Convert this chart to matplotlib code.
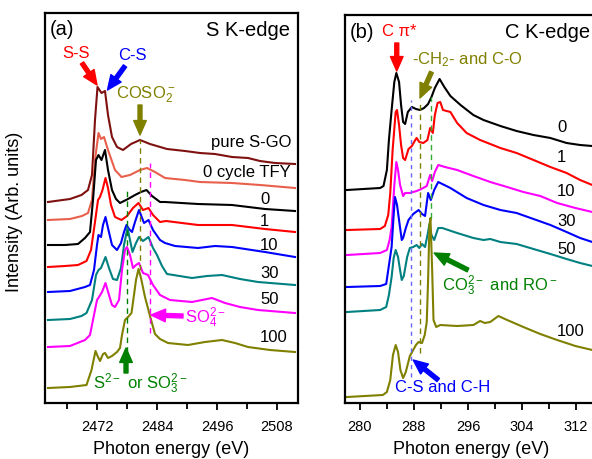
import numpy as np
import matplotlib.pyplot as plt
from matplotlib.ticker import MultipleLocator

plt.rcParams['font.family'] = ['Liberation Sans', 'DejaVu Sans']
plt.rcParams['mathtext.default'] = 'regular'

# (a) S K-edge spectra: (photon energy eV, intensity arb. units), offset stacked
s_pure_sgo = [(2462.2, 201), (2466.6, 204), (2468.9, 208), (2470.2, 213), (2471.0, 228),
              (2471.6, 283), (2472.1, 316), (2472.9, 310), (2473.6, 312), (2474.2, 288),
              (2475.0, 266), (2476.0, 256), (2477.2, 253), (2478.8, 259), (2480.6, 263),
              (2482.6, 259), (2486.0, 254), (2489.6, 252), (2492.6, 250), (2495.6, 249),
              (2499.0, 246), (2502.2, 245), (2504.6, 242), (2507.6, 240), (2511.6, 239)]
s_tfy = [(2462.2, 183), (2466.6, 184), (2469.0, 187), (2470.2, 190), (2471.0, 203),
         (2471.6, 243), (2472.3, 270), (2472.8, 264), (2473.4, 266), (2474.2, 253),
         (2475.6, 233), (2476.9, 226), (2478.6, 228), (2480.6, 233), (2482.0, 235),
         (2483.6, 231), (2485.6, 225), (2489.6, 223), (2492.6, 221), (2499.0, 220),
         (2504.6, 218), (2511.6, 215)]
s_c0 = [(2462.2, 158), (2465.6, 158), (2468.2, 159), (2469.6, 165), (2470.6, 171),
        (2471.2, 203), (2471.8, 243), (2472.3, 248), (2472.9, 243), (2473.6, 253),
        (2474.2, 233), (2475.0, 213), (2475.8, 204), (2476.6, 200), (2478.2, 204),
        (2479.6, 208), (2480.8, 211), (2481.9, 213), (2483.0, 207), (2484.6, 201),
        (2485.6, 201), (2492.2, 199), (2499.0, 198), (2505.6, 194), (2511.6, 192)]
s_c1 = [(2462.2, 136), (2465.6, 137), (2468.2, 138), (2469.9, 142), (2470.8, 153),
        (2471.6, 181), (2472.2, 203), (2472.6, 206), (2473.1, 213), (2473.7, 225),
        (2474.2, 215), (2474.8, 198), (2475.6, 186), (2476.9, 183), (2478.0, 187),
        (2479.2, 195), (2480.3, 200), (2481.2, 193), (2482.3, 195), (2483.2, 188),
        (2484.6, 181), (2485.8, 182), (2492.2, 178), (2499.0, 178), (2505.6, 174),
        (2511.6, 171)]
s_c10 = [(2462.2, 111), (2466.6, 112), (2469.6, 116), (2470.6, 118), (2471.4, 133),
         (2472.0, 158), (2472.3, 168), (2472.8, 166), (2473.2, 178), (2473.7, 186),
         (2474.2, 175), (2475.0, 158), (2476.0, 153), (2476.8, 160), (2477.4, 171),
         (2477.9, 178), (2478.4, 174), (2479.0, 171), (2479.6, 181), (2480.4, 193),
         (2481.4, 180), (2482.3, 183), (2483.2, 173), (2484.6, 163), (2485.6, 160),
         (2487.6, 157), (2492.2, 155), (2495.6, 157), (2499.0, 156), (2505.6, 151),
         (2511.6, 146)]
s_c30 = [(2462.2, 83), (2466.6, 84), (2468.9, 87), (2469.9, 90), (2471.0, 103),
         (2471.8, 128), (2472.3, 133), (2472.8, 135), (2473.7, 146), (2474.4, 135),
         (2475.2, 124), (2476.0, 123), (2476.8, 135), (2477.4, 158), (2478.1, 175),
         (2478.6, 163), (2479.1, 151), (2479.8, 160), (2480.4, 166), (2481.2, 162),
         (2482.3, 166), (2483.2, 155), (2484.0, 148), (2485.0, 137), (2486.0, 129),
         (2491.0, 125), (2494.0, 127), (2497.0, 128), (2500.6, 124), (2504.2, 121),
         (2511.6, 118)]
s_c50 = [(2462.2, 56), (2466.6, 57), (2469.6, 63), (2470.6, 68), (2471.4, 88),
         (2472.0, 103), (2472.4, 106), (2473.0, 111), (2473.7, 120), (2474.4, 108),
         (2475.0, 98), (2475.6, 96), (2476.4, 103), (2477.0, 133), (2477.6, 153),
         (2478.0, 156), (2478.6, 148), (2479.2, 135), (2479.8, 138), (2480.4, 140),
         (2481.2, 130), (2482.2, 128), (2483.2, 118), (2484.6, 108), (2486.6, 103),
         (2491.0, 101), (2495.0, 105), (2497.6, 100), (2500.6, 96), (2504.2, 93),
         (2511.6, 90)]
s_c100 = [(2462.2, 15), (2466.6, 16), (2469.9, 18), (2470.9, 33), (2471.7, 52),
          (2472.2, 46), (2472.6, 42), (2473.2, 49), (2473.6, 50), (2474.2, 45),
          (2475.0, 47), (2476.0, 51), (2476.6, 55), (2477.0, 68), (2477.6, 83),
          (2478.2, 86), (2478.9, 90), (2479.4, 108), (2479.8, 123), (2480.3, 134),
          (2480.8, 125), (2481.6, 106), (2482.6, 87), (2483.6, 69), (2484.6, 64),
          (2486.2, 60), (2490.2, 58), (2493.6, 61), (2497.0, 63), (2499.6, 60),
          (2502.2, 56), (2506.6, 53), (2511.6, 51)]

# (b) C K-edge spectra
c_c0 = [(278.1, 213), (283.0, 215), (283.5, 217), (284.0, 233), (284.3, 263),
        (284.7, 293), (285.1, 321), (285.4, 330), (285.8, 321), (286.1, 298),
        (286.4, 281), (286.7, 279), (287.1, 291), (287.7, 296), (288.3, 294),
        (288.9, 293), (289.5, 295), (290.1, 299), (290.6, 306), (291.1, 315),
        (291.8, 324), (292.5, 316), (293.4, 307), (294.9, 298), (296.8, 288),
        (298.3, 283), (300.8, 277), (303.2, 272), (305.7, 268), (308.2, 265),
        (310.6, 260), (312.6, 258), (314.4, 257)]
c_c1 = [(278.1, 173), (283.0, 174), (283.7, 177), (284.2, 188), (284.5, 210),
        (284.85, 253), (285.3, 291), (285.5, 293), (285.8, 278), (286.1, 258),
        (286.4, 245), (286.7, 243), (287.2, 254), (287.7, 257), (288.2, 263),
        (288.4, 265), (288.8, 261), (289.4, 260), (290.0, 263), (290.4, 275),
        (290.8, 270), (291.1, 288), (291.5, 300), (291.9, 301), (292.3, 293),
        (293.4, 291), (294.4, 280), (295.8, 270), (297.8, 263), (300.8, 255),
        (303.2, 250), (305.7, 243), (308.2, 236), (310.6, 230), (312.6, 223),
        (314.4, 218)]
c_c10 = [(278.1, 148), (283.0, 150), (284.0, 153), (284.4, 163), (284.7, 176),
         (285.1, 218), (285.4, 241), (285.65, 233), (285.95, 218), (286.4, 207),
         (286.7, 210), (287.4, 210), (288.4, 212), (289.1, 214), (289.9, 217),
         (290.4, 228), (290.7, 222), (291.1, 231), (291.6, 238), (292.6, 236),
         (294.4, 233), (296.8, 227), (299.3, 221), (301.8, 216), (304.2, 211),
         (306.7, 207), (309.2, 200), (311.9, 195), (314.4, 191)]
c_c30 = [(278.1, 116), (283.0, 117), (283.9, 119), (284.2, 133), (284.7, 156),
         (285.0, 188), (285.2, 206), (285.5, 198), (285.9, 178), (286.2, 163),
         (286.4, 165), (286.8, 175), (287.2, 183), (287.9, 189), (288.7, 193),
         (289.2, 189), (289.65, 187), (290.1, 210), (290.5, 203), (291.0, 213),
         (291.6, 221), (292.5, 218), (293.4, 215), (295.8, 205), (298.3, 198),
         (300.8, 193), (303.2, 190), (305.7, 184), (308.2, 178), (310.6, 171),
         (312.6, 165), (314.4, 161)]
c_c50 = [(278.1, 91), (283.0, 93), (283.9, 96), (284.3, 108), (284.7, 126),
         (285.0, 145), (285.3, 153), (285.65, 146), (285.95, 133), (286.2, 123),
         (286.5, 127), (287.0, 146), (287.4, 155), (287.9, 156), (288.4, 158),
         (288.8, 155), (289.2, 159), (289.65, 156), (290.1, 171), (290.3, 179),
         (290.6, 168), (291.0, 163), (291.6, 175), (292.2, 175), (294.4, 170),
         (296.8, 165), (298.3, 163), (299.3, 164), (300.8, 161), (303.2, 159),
         (305.7, 154), (308.2, 149), (310.6, 144), (312.6, 140), (314.4, 137)]
c_c100 = [(278.1, 6), (283.4, 8), (284.0, 11), (284.5, 23), (284.9, 48),
          (285.3, 58), (285.65, 51), (286.0, 33), (286.4, 25), (286.8, 31),
          (287.4, 47), (287.9, 53), (288.3, 58), (288.7, 61), (289.2, 60),
          (289.6, 68), (289.9, 81), (290.1, 123), (290.3, 178), (290.45, 185),
          (290.7, 133), (290.9, 83), (291.3, 76), (291.9, 78), (294.4, 77),
          (296.8, 78), (297.8, 82), (298.5, 80), (299.3, 81), (300.5, 87),
          (301.8, 83), (304.2, 76), (306.7, 69), (309.2, 63), (311.9, 57),
          (314.4, 53)]

s_series = [s_pure_sgo, s_tfy, s_c0, s_c1, s_c10, s_c30, s_c50, s_c100]
s_colors = ['#7f1010', '#e8604c', 'black', 'red', 'blue', '#008080', '#ff00ff', '#808000']
c_series = [c_c0, c_c1, c_c10, c_c30, c_c50, c_c100]
c_colors = ['black', 'red', '#ff00ff', 'blue', '#008080', '#808000']

s_labels = ['0', '1', '10', '30', '50', '100']
s_label_y = [203, 181, 158, 130, 103, 65]
c_labels = ['0', '1', '10', '30', '50', '100']
c_label_y = [275, 245, 211, 181, 153, 71]

fig = plt.figure(figsize=(5.92, 4.59), dpi=100)
ax1 = fig.add_axes([45 / 592, 56 / 459, 253 / 592, 390 / 459])
ax2 = fig.add_axes([345 / 592, 56 / 459, 252 / 592, 388 / 459])


def arrow(ax, tail, tip, color):
    ax.annotate('', xy=tip, xytext=tail,
                arrowprops=dict(arrowstyle='simple,head_length=0.8,head_width=0.7,tail_width=0.22',
                                color=color, mutation_scale=13, shrinkA=0, shrinkB=0))


for ax in (ax1, ax2):
    for sp in ax.spines.values():
        sp.set_linewidth(1.6)
    ax.set_yticks([])
    ax.tick_params(axis='x', which='both', direction='out', width=1.3, labelsize=10.5, pad=7)
    ax.tick_params(axis='x', which='major', length=5)
    ax.tick_params(axis='x', which='minor', length=4)
    ax.set_xlabel('Photon energy (eV)', fontsize=13, labelpad=5)

# panel (a)
for data, col in zip(s_series, s_colors):
    e, i = zip(*data)
    ax1.plot(e, i, color=col, lw=1.5)
ax1.set_xlim(2461.6, 2512.2)
ax1.set_ylim(0, 390)
ax1.xaxis.set_major_locator(MultipleLocator(12))
ax1.xaxis.set_minor_locator(MultipleLocator(6))
ax1.set_ylabel('Intensity (Arb. units)', fontsize=13)
ax1.yaxis.set_label_coords(-0.085, 0.49)

ax1.plot([2477.9, 2477.9], [41, 213], color='green', lw=1, ls=(0, (4, 3)))
ax1.plot([2480.5, 2480.5], [133, 263], color='#808000', lw=1, ls=(0, (4, 3)))
ax1.plot([2482.6, 2482.6], [70, 240], color='#ff00ff', lw=1, ls=(0, (4, 3)))

ax1.text(0.02, 0.958, '(a)', transform=ax1.transAxes, fontsize=14.5, va='center')
ax1.text(0.968, 0.954, 'S K-edge', transform=ax1.transAxes, fontsize=14.5,
         ha='right', va='center')
ax1.text(2510.8, 260, 'pure S-GO', fontsize=12, ha='right', va='center')
ax1.text(2510.8, 230, '0 cycle TFY', fontsize=12, ha='right', va='center')
for lab, y in zip(s_labels, s_label_y):
    ax1.text(2504.6, y, lab, fontsize=12, ha='left', va='center')

ax1.text(2467.8, 350, 'S-S', color='red', fontsize=12, ha='center', va='center')
arrow(ax1, (2469.0, 340), (2472.0, 318), 'red')
ax1.text(2479.0, 348, 'C-S', color='blue', fontsize=12, ha='center', va='center')
arrow(ax1, (2477.6, 337), (2474.1, 313), 'blue')
ax1.text(2481.8, 308, 'COSO$_2^-$', color='#808000', fontsize=12, ha='center', va='center')
arrow(ax1, (2480.6, 298), (2480.6, 268), '#808000')
ax1.text(2489.6, 85, 'SO$_4^{2-}$', color='#ff00ff', fontsize=12, ha='left', va='center')
arrow(ax1, (2489.2, 87), (2482.8, 88), '#ff00ff')
ax1.text(2480.6, 19, 'S$^{2-}$ or SO$_3^{2-}$', color='green', fontsize=12,
         ha='center', va='center')
arrow(ax1, (2477.8, 30), (2477.8, 55), 'green')

# panel (b)
for data, col in zip(c_series, c_colors):
    e, i = zip(*data)
    ax2.plot(e, i, color=col, lw=1.5)
ax2.set_xlim(277.8, 315.1)
ax2.set_ylim(0, 388)
ax2.xaxis.set_major_locator(MultipleLocator(8))
ax2.xaxis.set_minor_locator(MultipleLocator(4))

ax2.plot([287.6, 287.6], [26, 303], color='#6666ff', lw=1, ls=(0, (3, 3)))
ax2.plot([288.9, 288.9], [50, 303], color='#808000', lw=1, ls=(0, (4, 3)))
ax2.plot([290.6, 290.6], [185, 306], color='#33aa33', lw=1, ls=(0, (4, 3)))

ax2.text(0.02, 0.956, '(b)', transform=ax2.transAxes, fontsize=14.5, va='center')
ax2.text(0.972, 0.956, 'C K-edge', transform=ax2.transAxes, fontsize=14.5,
         ha='right', va='center')
for lab, y in zip(c_labels, c_label_y):
    ax2.text(309.2, y, lab, fontsize=12, ha='left', va='center')

ax2.text(285.8, 372, 'C π*', color='red', fontsize=12, ha='center', va='center')
arrow(ax2, (285.46, 360), (285.46, 332), 'red')
ax2.text(287.7, 343, '-CH$_2$- and C-O', color='#808000', fontsize=12, ha='left', va='center')
arrow(ax2, (290.6, 331), (288.9, 305), '#808000')
ax2.text(292.2, 117, 'CO$_3^{2-}$ and RO$^-$', color='green', fontsize=12,
         ha='left', va='center')
arrow(ax2, (296.0, 133), (291.0, 150), 'green')
ax2.text(285.2, 15, 'C-S and C-H', color='blue', fontsize=12, ha='left', va='center')
arrow(ax2, (291.6, 23), (287.9, 43), 'blue')

fig.savefig('out.png', dpi=100)
